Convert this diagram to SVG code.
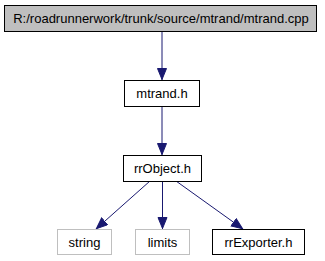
<svg xmlns="http://www.w3.org/2000/svg" width="325" height="261" viewBox="0 0 325 261">
  <style>
    .box { fill: #ffffff; stroke: #000000; stroke-width: 1; }
    .box.root { fill: #bfbfbf; }
    .box.ext { stroke: #bfbfbf; }
    .label { font-family: "Liberation Sans", Arial, sans-serif; font-size: 13px; fill: #000000; text-anchor: middle; }
    .edge { stroke: #191970; stroke-width: 1; fill: none; marker-end: url(#arrow); }
  </style>
  <defs>
    <marker id="arrow" markerUnits="userSpaceOnUse" markerWidth="13" markerHeight="11" refX="12" refY="5" orient="auto">
      <path d="M0.5,0.5 L11.5,5 L0.5,9.5 z" fill="#191970" stroke="#191970" stroke-width="1"/>
    </marker>
  </defs>
  <rect width="325" height="261" fill="#ffffff"/>

  <!-- include connectors -->
  <g id="edges">
    <line class="edge" x1="162" y1="31" x2="162" y2="80"/>
    <line class="edge" x1="162" y1="106" x2="162" y2="155"/>
    <line class="edge" x1="150" y1="181" x2="96" y2="229"/>
    <line class="edge" x1="162.5" y1="181" x2="162.5" y2="229"/>
    <line class="edge" x1="176" y1="181" x2="243" y2="229"/>
  </g>

  <g id="node_mtrand_cpp">
    <rect class="box root" x="4.5" y="5.5" width="312" height="26"/>
    <text class="label" x="161" y="23">R:/roadrunnerwork/trunk/source/mtrand/mtrand.cpp</text>
  </g>
  <g id="node_mtrand_h">
    <rect class="box" x="124.5" y="80.5" width="75" height="26"/>
    <text class="label" x="162" y="98">mtrand.h</text>
  </g>
  <g id="node_rrObject_h">
    <rect class="box" x="123.5" y="155.5" width="78" height="26"/>
    <text class="label" x="162.5" y="173">rrObject.h</text>
  </g>
  <g id="node_string">
    <rect class="box ext" x="57.5" y="229.5" width="54" height="25"/>
    <text class="label" x="84.5" y="247">string</text>
  </g>
  <g id="node_limits">
    <rect class="box ext" x="135.5" y="229.5" width="54" height="25"/>
    <text class="label" x="162.5" y="247">limits</text>
  </g>
  <g id="node_rrExporter_h">
    <rect class="box" x="212.5" y="229.5" width="92" height="25"/>
    <text class="label" x="258.5" y="247">rrExporter.h</text>
  </g>
</svg>
